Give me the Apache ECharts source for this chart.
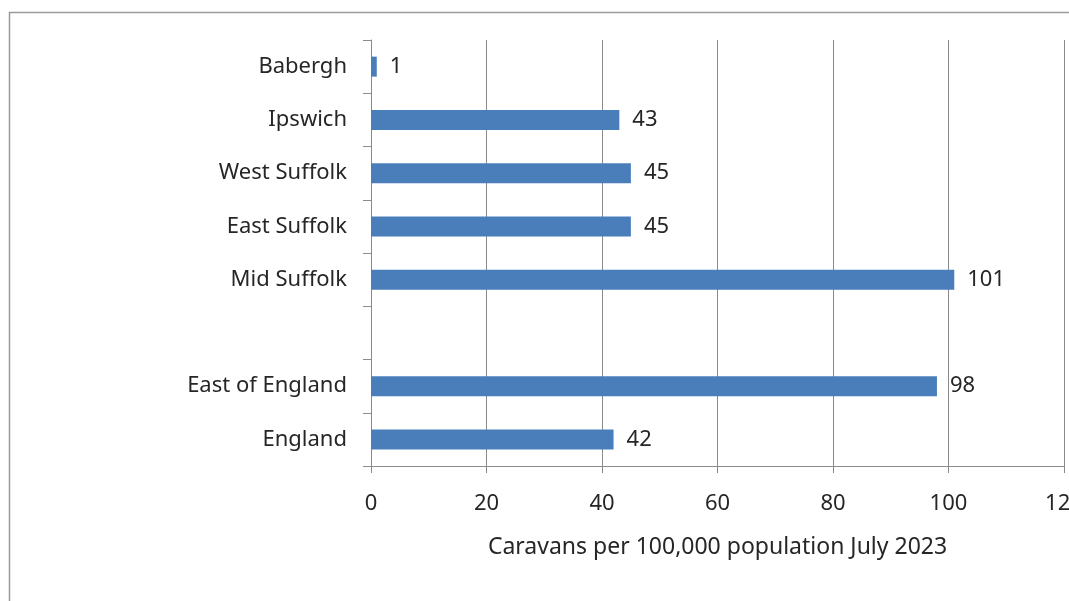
<!DOCTYPE html>
<html>
<head>
<meta charset="utf-8">
<script src="https://cdn.jsdelivr.net/npm/echarts@6/dist/echarts.min.js"></script>
<style>
  html, body { margin: 0; padding: 0; background: #fff; }
  #chart { width: 1069px; height: 601px; }
</style>
</head>
<body>
<div id="chart"></div>
<script>
// Caravans per 100,000 population, July 2023
const areas = [ 'Babergh', 'Ipswich', 'West Suffolk', 'East Suffolk', 'Mid Suffolk', '', 'East of England', 'England' ];
const caravans = [ 1, 43, 45, 45, 101, null, 98, 42 ];
const xTicks = [ 0, 20, 40, 60, 80, 100, 120 ];
const xTitle = 'Caravans per 100,000 population July 2023';

const axisGrey = '#8a8a8a';
const textColor = '#262626';
const font = 'Noto Sans';
const fontSize = 22;

const chart = echarts.init( document.getElementById( 'chart' ) );

chart.setOption( {
  animation: false,
  textStyle: { fontFamily: font },
  graphic: [ {
    type: 'rect',
    shape: { x: 9.5, y: 12.5, width: 1200, height: 700 },
    style: { fill: 'none', stroke: '#9a9a9a', lineWidth: 1.5 },
    silent: true
  } ],
  grid: { left: 371, right: 5, top: 40, bottom: 135, containLabel: false, outerBoundsMode: 'none' },
  xAxis: {
    type: 'value',
    min: xTicks[0],
    max: xTicks[xTicks.length - 1],
    interval: 20,
    name: xTitle,
    nameLocation: 'middle',
    nameGap: 70,
    nameTextStyle: { fontSize: 23, color: textColor, fontFamily: font },
    axisLine: { show: true, lineStyle: { color: axisGrey, width: 1 } },
    axisTick: { show: true, length: 7, lineStyle: { color: axisGrey } },
    axisLabel: { fontSize: fontSize, color: textColor, margin: 27, fontFamily: font, hideOverlap: false },
    splitLine: { show: true, lineStyle: { color: axisGrey, width: 1 } }
  },
  yAxis: {
    type: 'category',
    data: areas,
    inverse: true,
    axisLine: { show: true, lineStyle: { color: axisGrey, width: 1 } },
    axisTick: { show: true, length: 8, alignWithLabel: false, lineStyle: { color: axisGrey } },
    axisLabel: { fontSize: fontSize, color: textColor, margin: 24, fontFamily: font },
    splitLine: { show: false }
  },
  series: [ {
    type: 'bar',
    data: caravans,
    barWidth: 20,
    itemStyle: { color: '#4a7ebb' },
    label: {
      show: true,
      position: 'right',
      distance: 13,
      fontSize: fontSize,
      color: textColor,
      fontFamily: font
    }
  } ]
} );
</script>
</body>
</html>
